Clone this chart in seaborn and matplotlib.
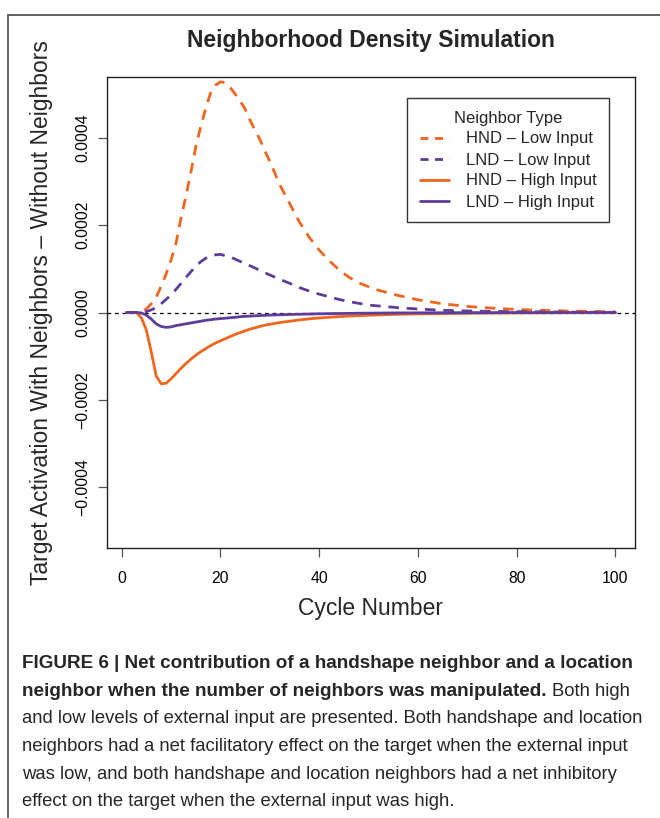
import numpy as np
import pandas as pd
import matplotlib
matplotlib.use("Agg")
import matplotlib.pyplot as plt
from matplotlib.lines import Line2D
import seaborn as sns

# ---------------- data ----------------
cycles = list(range(1, 31)) + list(range(32, 61, 2)) + list(range(65, 101, 5))

hnd_low = [0, 0, 0, 0.000001, 0.000008, 0.00002, 0.000035, 0.00006, 0.000088, 0.00012,
           0.000158, 0.000215, 0.000265, 0.00032, 0.000378, 0.000425, 0.000466, 0.000502, 0.00052, 0.000528,
           0.000526, 0.000515, 0.0005, 0.000484, 0.000466, 0.00044, 0.000418, 0.000396, 0.00037, 0.000346,
           0.000293, 0.00025, 0.000207, 0.000172, 0.000143, 0.000119, 0.000098, 0.000081, 0.000068, 0.000059,
           0.000051, 0.000045, 0.000039, 0.000034, 0.000029,
           0.00002, 0.000014, 0.00001, 0.000007, 0.000005, 0.0000035, 0.0000025, 0.0000015]

lnd_low = [0, 0, 0, 0, 0.000002, 0.000006, 0.000011, 0.00002, 0.00003, 0.00004,
           0.000053, 0.000066, 0.00008, 0.000093, 0.000105, 0.000116, 0.000124, 0.00013, 0.000132, 0.000133,
           0.00013, 0.000127, 0.000122, 0.000117, 0.000112, 0.000107, 0.000102, 0.000096, 0.000091, 0.000086,
           0.000076, 0.000067, 0.000057, 0.000049, 0.000042, 0.000036, 0.00003, 0.000025, 0.000021, 0.000017,
           0.000015, 0.000013, 0.000011, 0.0000095, 0.000008,
           0.000005, 0.0000035, 0.0000025, 0.000002, 0.0000015, 0.000001, 0.0000007, 0.0000005]

hnd_high = [0, 0, 0, -0.000012, -0.00004, -0.00009, -0.000145, -0.000163, -0.000162, -0.000152,
            -0.00014, -0.000128, -0.000117, -0.000107, -0.000098, -0.00009, -0.000083, -0.000076, -0.00007, -0.000065,
            -0.00006, -0.000055, -0.00005, -0.000046, -0.000042, -0.000038, -0.000035, -0.000032, -0.000029, -0.000027,
            -0.000023, -0.00002, -0.000017, -0.0000145, -0.0000125, -0.000011, -0.0000095, -0.0000083, -0.0000072, -0.0000063,
            -0.0000055, -0.0000048, -0.0000042, -0.0000037, -0.0000032,
            -0.0000024, -0.0000018, -0.0000013, -0.000001, -0.0000008, -0.0000006, -0.0000005, -0.0000004]

lnd_high = [0, 0, 0, -0.000001, -0.000006, -0.000015, -0.000026, -0.000032, -0.000034, -0.000033,
            -0.00003, -0.000028, -0.000026, -0.000024, -0.000022, -0.00002, -0.000018, -0.0000165, -0.000015, -0.000014,
            -0.000013, -0.000012, -0.000011, -0.0000095, -0.0000088, -0.0000082, -0.0000076, -0.000007, -0.0000065, -0.000006,
            -0.0000052, -0.0000045, -0.000004, -0.0000035, -0.000003, -0.0000026, -0.0000023, -0.000002, -0.0000017, -0.0000015,
            -0.0000013, -0.0000011, -0.000001, -0.0000009, -0.0000008,
            -0.0000006, -0.0000004, -0.0000003, -0.0000002, -0.0000002, -0.0000001, -0.0000001, -0.0000001]

series_labels = ["HND \u2013 Low Input", "LND \u2013 Low Input",
                 "HND \u2013 High Input", "LND \u2013 High Input"]
x_ticks = [0, 20, 40, 60, 80, 100]
y_ticks = [-0.0004, -0.0002, 0.0, 0.0002, 0.0004]
y_tick_labels = ["\u22120.0004", "\u22120.0002", "0.0000", "0.0002", "0.0004"]

title = "Neighborhood Density Simulation"
x_label = "Cycle Number"
y_label = "Target Activation With Neighbors \u2013 Without Neighbors"
legend_title = "Neighbor Type"

caption_bold = ["FIGURE 6 | Net contribution of a handshape neighbor and a location",
                "neighbor when the number of neighbors was manipulated."]
caption_rest = ["Both high",
                "and low levels of external input are presented. Both handshape and location",
                "neighbors had a net facilitatory effect on the target when the external input",
                "was low, and both handshape and location neighbors had a net inhibitory",
                "effect on the target when the external input was high."]

# ---------------- style ----------------
ORANGE = "#F0661E"
PURPLE = "#5E3C99"
sns.set_style("white")
plt.rcParams["font.family"] = ["Liberation Sans", "DejaVu Sans"]

W, H = 660, 818
fig = plt.figure(figsize=(W / 100, H / 100), dpi=100)
fig.patch.set_facecolor("white")

def fx(px):
    return px / W

def fy(py):
    return 1 - py / H

ax = fig.add_axes([fx(107), fy(548), (635 - 107) / W, (548 - 77) / H])

df = pd.DataFrame({"cycle": cycles, "hnd_low": hnd_low, "lnd_low": lnd_low,
                   "hnd_high": hnd_high, "lnd_high": lnd_high})

LW = 2.0
specs = [("hnd_low", ORANGE, True), ("lnd_low", PURPLE, True),
         ("hnd_high", ORANGE, False), ("lnd_high", PURPLE, False)]
ax.axhline(0, color="black", lw=0.9, dashes=(3, 3), zorder=1)
for col, color, dashed in specs:
    sns.lineplot(data=df, x="cycle", y=col, ax=ax, color=color, lw=LW, legend=False, zorder=3)
    if dashed:
        ax.get_lines()[-1].set_dashes((3.8, 2.8))

ax.set_xlim(-2.96, 103.96)
ax.set_ylim(-0.000539, 0.000539)
ax.set_xticks(x_ticks)
ax.set_xticklabels([str(v) for v in x_ticks])
ax.set_yticks(y_ticks)
ax.set_yticklabels(y_tick_labels, rotation=90, va="center")
ax.set_xlabel("")
ax.set_ylabel("")
ax.tick_params(axis="both", which="major", direction="out", length=6.5, width=0.9,
               color="#555555", labelsize=11.3, labelcolor="black",
               bottom=True, left=True, top=False, right=False)
ax.tick_params(axis="x", pad=10)
ax.tick_params(axis="y", pad=5.5)
for s in ax.spines.values():
    s.set_visible(True)
    s.set_color("#222222")
    s.set_linewidth(1.0)

handles = [Line2D([], [], color=ORANGE, lw=LW, dashes=(2.9, 2.3)),
           Line2D([], [], color=PURPLE, lw=LW, dashes=(2.9, 2.3)),
           Line2D([], [], color=ORANGE, lw=LW),
           Line2D([], [], color=PURPLE, lw=LW)]
leg = ax.legend(handles, series_labels, title=legend_title, loc="upper right",
                bbox_to_anchor=((609 - 107) / 528, (548 - 98) / 471), borderaxespad=0,
                frameon=True, fancybox=False, edgecolor="black", fontsize=12, title_fontsize=12,
                handlelength=1.75, handletextpad=1.0, borderpad=0.75, labelspacing=0.36)
leg.get_frame().set_linewidth(1.0)

# ---------------- texts ----------------
renderer = fig.canvas.get_renderer()

def fit(t, target_px, vertical=False):
    bb = t.get_window_extent(renderer)
    w = bb.height if vertical else bb.width
    t.set_fontsize(t.get_fontsize() * target_px / w)

t_title = fig.text(fx(371), fy(40), title, ha="center", va="center", fontweight="bold", fontsize=16)
fit(t_title, 368)
t_xl = fig.text(fx(371), fy(609), x_label, ha="center", va="center", fontsize=16)
fit(t_xl, 145)
t_yl = fig.text(fx(42), fy(313), y_label, ha="center", va="center", rotation=90, fontsize=16)
fit(t_yl, 546, vertical=True)

# caption
base = [668, 696, 723, 751, 779, 806]
cb0 = fig.text(fx(22), fy(base[0]), caption_bold[0], ha="left", va="baseline",
               fontweight="bold", fontsize=13)
fit(cb0, 609)
bsize = cb0.get_fontsize()
tmp3 = fig.text(fx(22), fy(base[2]), caption_rest[1], ha="left", va="baseline", fontsize=13)
tmp4 = fig.text(fx(22), fy(base[3]), caption_rest[2], ha="left", va="baseline", fontsize=13)
wsum = tmp3.get_window_extent(renderer).width + tmp4.get_window_extent(renderer).width
rsize = 13 * (615 + 615) / wsum
tmp3.set_fontsize(rsize)
tmp4.set_fontsize(rsize)
cb1 = fig.text(fx(22), fy(base[1]), caption_bold[1], ha="left", va="baseline",
               fontweight="bold", fontsize=bsize)
bb = cb1.get_window_extent(renderer)
m1 = fig.text(0, 0, "a a", fontsize=rsize)
m2 = fig.text(0, 0, "aa", fontsize=rsize)
sp = m1.get_window_extent(renderer).width - m2.get_window_extent(renderer).width
m1.remove()
m2.remove()
fig.text(fx(bb.x1 + sp), fy(base[1]), caption_rest[0], ha="left", va="baseline", fontsize=rsize)
fig.text(fx(22), fy(base[4]), caption_rest[3], ha="left", va="baseline", fontsize=rsize)
fig.text(fx(22), fy(base[5]), caption_rest[4], ha="left", va="baseline", fontsize=rsize)

# outer border (left and top edges)
fig.add_artist(Line2D([fx(8), fx(8)], [fy(15), 0], transform=fig.transFigure,
                      color="#555555", lw=1.3))
fig.add_artist(Line2D([fx(8), 1], [fy(15), fy(15)], transform=fig.transFigure,
                      color="#555555", lw=1.3))

fig.savefig("out.png", dpi=100, facecolor="white")
